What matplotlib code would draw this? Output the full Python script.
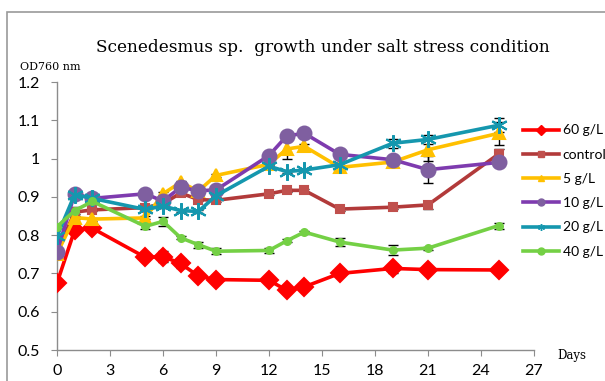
import matplotlib
matplotlib.use("Agg")
import matplotlib.pyplot as plt
from matplotlib.patches import Rectangle
from matplotlib.lines import Line2D

days = [0, 1, 2, 5, 6, 7, 8, 9, 12, 13, 14, 16, 19, 21, 25]
series_names = ["60 g/L", "control", "5 g/L", "10 g/L", "20 g/L", "40 g/L"]
g60 = [0.675, 0.813, 0.818, 0.742, 0.744, 0.726, 0.693, 0.684, 0.682, 0.656, 0.665, 0.700, 0.713, 0.710, 0.709]
control = [0.757, 0.860, 0.866, 0.872, 0.882, 0.910, 0.893, 0.891, 0.908, 0.917, 0.917, 0.868, 0.873, 0.879, 1.012]
g5 = [0.752, 0.846, 0.842, 0.845, 0.908, 0.938, 0.915, 0.956, 0.985, 1.025, 1.032, 0.977, 0.991, 1.023, 1.066]
g10 = [0.756, 0.908, 0.896, 0.908, 0.889, 0.925, 0.916, 0.918, 1.008, 1.059, 1.066, 1.011, 0.997, 0.971, 0.990]
g20 = [0.797, 0.906, 0.896, 0.867, 0.876, 0.864, 0.862, 0.903, 0.980, 0.966, 0.970, 0.984, 1.040, 1.050, 1.087]
g40 = [0.822, 0.864, 0.888, 0.823, 0.836, 0.793, 0.775, 0.758, 0.760, 0.785, 0.808, 0.782, 0.761, 0.766, 0.825]
err60 = [0.005, 0.006, 0.006, 0.006, 0.015, 0.012, 0.004, 0.004, 0.004, 0.006, 0.006, 0.004, 0.012, 0.006, 0.004]
errc = [0.004, 0.012, 0.004, 0.004, 0.004, 0.004, 0.004, 0.004, 0.004, 0.004, 0.004, 0.004, 0.004, 0.010, 0.012]
err5 = [0.004, 0.004, 0.004, 0.004, 0.004, 0.004, 0.004, 0.004, 0.004, 0.025, 0.006, 0.004, 0.004, 0.030, 0.030]
err10 = [0.004, 0.004, 0.004, 0.004, 0.004, 0.004, 0.004, 0.004, 0.004, 0.004, 0.004, 0.004, 0.008, 0.035, 0.004]
err20 = [0.004, 0.004, 0.004, 0.004, 0.004, 0.004, 0.004, 0.004, 0.004, 0.004, 0.004, 0.004, 0.012, 0.012, 0.018]
err40 = [0.004, 0.010, 0.004, 0.008, 0.012, 0.004, 0.008, 0.008, 0.006, 0.004, 0.004, 0.010, 0.012, 0.004, 0.008]
yticks = [0.5, 0.6, 0.7, 0.8, 0.9, 1.0, 1.1, 1.2]
yticklabels = ["0.5", "0.6", "0.7", "0.8", "0.9", "1", "1.1", "1.2"]
xticks = [0, 3, 6, 9, 12, 15, 18, 21, 24, 27]

data = [g60, control, g5, g10, g20, g40]
errs = [err60, errc, err5, err10, err20, err40]
colors = ["#FF0000", "#B23A3A", "#FFC000", "#7E3BAF", "#1597AE", "#74D045"]
mfc = ["#FF0000", "#C0504D", "#FFC000", "#7F5FA0", "#1597AE", "#74D045"]
markers = ["D", "s", "^", "o", (6, 2, 0), "o"]
msizes = [9, 6, 9, 10, 12, 5]

fig = plt.figure(figsize=(6.05, 3.81), dpi=100)
fig.patches.append(Rectangle((7/605, -0.1), 1.2, (381-12)/381 + 0.1, transform=fig.transFigure,
                             fill=False, edgecolor="#9a9a9a", linewidth=1.2))
ax = fig.add_axes([57/605, (381-350)/381, (534-57)/605, (350-82)/381])

for y, e in zip(data, errs):
    ax.errorbar(days, y, yerr=e, fmt="none", ecolor="black", elinewidth=1.0, capsize=3.5, capthick=1.0, zorder=2)
for y, c, fc, m, ms, name in zip(data, colors, mfc, markers, msizes, series_names):
    ax.plot(days, y, color=c, linewidth=2.6, marker=m, markersize=ms, markerfacecolor=fc,
            markeredgecolor=fc, markeredgewidth=1.5, label=name, zorder=3)

ax.set_xlim(0, 27)
ax.set_ylim(0.5, 1.2)
ax.set_xticks(xticks)
ax.set_yticks(yticks)
ax.set_yticklabels(yticklabels)
for s in ["top", "right"]:
    ax.spines[s].set_visible(False)
for s in ["left", "bottom"]:
    ax.spines[s].set_color("#8c8c8c")
    ax.spines[s].set_linewidth(1.0)
ax.tick_params(axis="both", colors="#8c8c8c", labelcolor="black", direction="out", length=4, labelsize=11.5)
ax.tick_params(axis="x", pad=6)
ax.tick_params(axis="y", pad=8)
for lab in ax.get_xticklabels() + ax.get_yticklabels():
    lab.set_fontfamily("Lato")

handles = [Line2D([0], [0], color=c, linewidth=2.6, marker=m, markersize=5, markerfacecolor=fc,
                  markeredgecolor=fc) for c, fc, m in zip(colors, mfc, markers)]
leg = fig.legend(handles, series_names, loc="upper left", bbox_to_anchor=(510/605, 1 - 112/381),
                 frameon=False, handlelength=2.6, labelspacing=0.88, handletextpad=0.3,
                 prop={"family": "Lato", "size": 10})

fig.text(323/605, 1 - 47/381, "Scenedesmus sp.  growth under salt stress condition",
         ha="center", va="center", fontsize=12.2, family="DejaVu Serif")
fig.text(20/605, 1 - 67/381, "OD760 nm", ha="left", va="center", fontsize=8, family="DejaVu Serif")
fig.text(572/605, 1 - 355/381, "Days", ha="center", va="center", fontsize=8.5, family="DejaVu Serif")

fig.savefig("out.png", dpi=100)
